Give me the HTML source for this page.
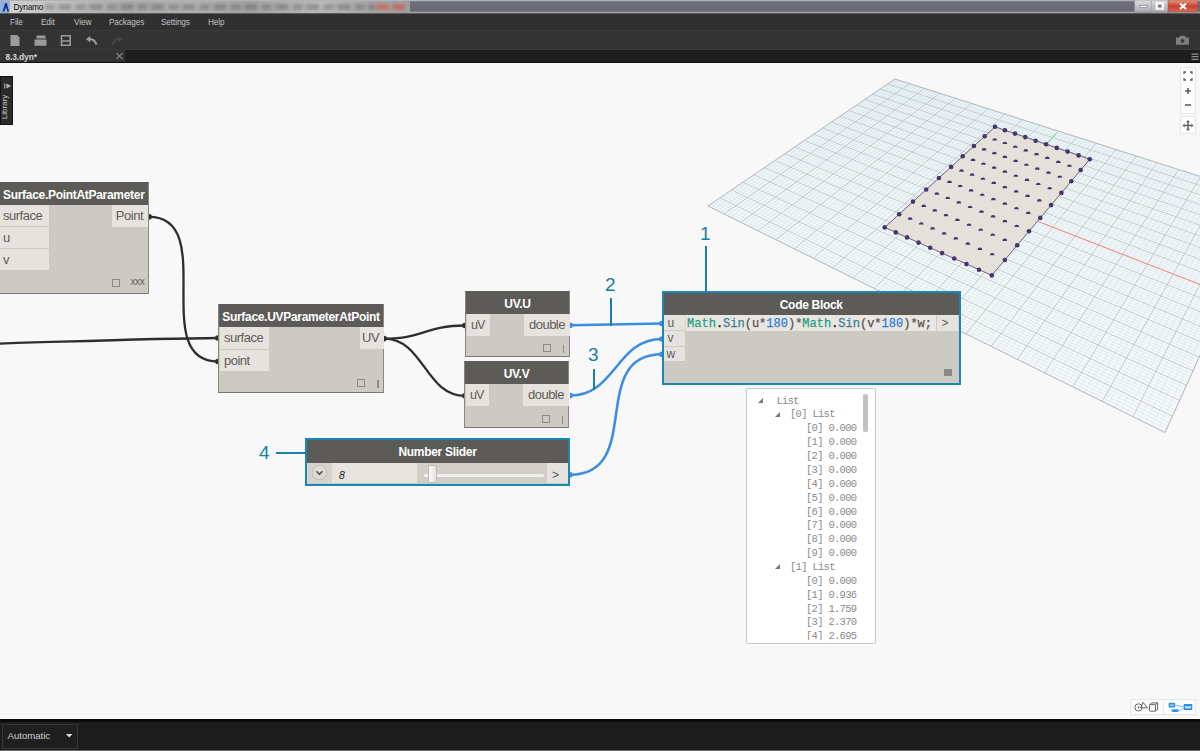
<!DOCTYPE html>
<html><head><meta charset="utf-8">
<style>
*{box-sizing:border-box;margin:0;padding:0}
html,body{width:1200px;height:751px;overflow:hidden;background:#f8f8f8;font-family:"Liberation Sans",sans-serif}
.abs{position:absolute}
#title{left:0;top:0;width:1200px;height:14px;background:linear-gradient(#d8d8dc 0,#8a8a94 1px,#6e6e7a 2px,#6a6a76 11px,#a2a2aa 12.5px,#3a3a3a 14px)}
#title .blur{left:10px;top:1px;width:400px;height:11.5px;background:linear-gradient(90deg,#cfcfcf 0,#bdbdbd 15%,#a9a9a9 30%,#b2b2b2 45%,#a4a4a4 60%,#bcbcbc 78%,#a6a6a6 90%,#9e9ea2 100%)}
#title .red{left:376px;top:3.5px;width:13px;height:6px;background:#c8604c;filter:blur(1.5px);opacity:.7}
#title .txt{left:13.5px;top:1px;font-size:8.4px;letter-spacing:-0.25px;color:#111;line-height:12px}
#menubar{left:0;top:14px;width:1200px;height:17px;background:#303030;border-bottom:1px solid #3a3a3a}
#menubar span{position:absolute;top:3px;font-size:8.2px;letter-spacing:-0.1px;color:#c2c2c2;line-height:11px}
#toolbar{left:0;top:31px;width:1200px;height:19px;background:#333333;border-bottom:1px solid #3a3a3a}
#tabbar{left:0;top:50px;width:1200px;height:13px;background:#1e1e1e;border-bottom:1px solid #0e0e0e}
#tab{left:0;top:0;width:125px;height:12px;background:#333333}
#tab .t{position:absolute;left:5.5px;top:1.5px;font-size:8.4px;font-weight:bold;letter-spacing:-0.1px;color:#d4d4d4;line-height:11px}
#status{left:0;top:719px;width:1200px;height:32px;background:#1c1c1c;border-top:3px solid #0a0a0a;border-bottom:1.3px solid #070707}
#status:after{content:"";position:absolute;left:0;bottom:-1.3px;width:1200px;height:1.3px;background:#6a6a6a}
#auto{left:2px;top:2px;width:76px;height:25px;border:1.5px solid #363636;background:#1f1f1f}
#auto .t{position:absolute;left:4.5px;top:4.5px;font-size:9.6px;color:#d0d0d0}
#library{left:0;top:76px;width:13px;height:49px;background:#2b2b2b;border:1px solid #141414}
#library .t{position:absolute;left:-16px;top:25px;width:40px;transform:rotate(-90deg);font-size:8px;color:#c8c8c8;text-align:center;line-height:10px}
.node{position:absolute;background:#cdc9c3;border:1px solid #8b8680;border-top-color:#5c5b58;border-bottom:1.5px solid #7b7873}
.hdr{position:absolute;left:0;top:0;right:0;padding-top:1px;background:#5c5b58;color:#fff;font-weight:bold;font-size:12px;letter-spacing:-0.3px;white-space:nowrap;text-align:center}
.port{position:absolute;background:#e6e3de;color:#605c57;font-size:13px;letter-spacing:-0.5px;white-space:nowrap}
.box{position:absolute;width:7.5px;height:7.5px;border:1px solid #8f8a85}
.ibar{position:absolute;width:1.3px;height:8px;background:#8d8983}
.sel{border:3px solid #1a88b4}
.ann{position:absolute;color:#1a7fa8;font-size:19px;line-height:19px}
.annl{position:absolute;background:#1b80a9}
#list{left:746px;top:388px;width:130px;height:256px;background:#fff;border:1px solid #c9c9c9;border-radius:2px;overflow:hidden}
.lrow{position:absolute;font-family:"Liberation Mono",monospace;font-size:10.5px;letter-spacing:-0.7px;color:#8a8a8a;white-space:nowrap;line-height:12px}
.tri{position:absolute;width:0;height:0;border-left:5px solid transparent;border-bottom:5px solid #777}
.code{font-family:"Liberation Mono",monospace;font-size:12px;white-space:nowrap;color:#555;-webkit-text-stroke:0.25px}
</style></head><body>
<div id="title" class="abs">
  <div class="abs blur"></div><div class="abs" style="left:45px;top:4px;width:330px;height:6px;background:repeating-linear-gradient(90deg,rgba(60,60,60,.28) 0 9px,rgba(60,60,60,.1) 9px 14px,rgba(60,60,60,.3) 14px 26px,rgba(60,60,60,.05) 26px 31px);filter:blur(1.5px)"></div><div class="abs red"></div><div class="abs red" style="left:392px"></div>
  <svg class="abs" style="left:0;top:0" width="14" height="14"><rect x="0" y="1" width="10" height="12" fill="#8fb0e0"/><path d="M2.5 11.5L5.2 3h1.6L9 11.5H7.3L6 7 4.3 11.5z" fill="#1a2f7a"/></svg>
  <div class="abs txt">Dynamo</div>
  <svg class="abs" style="left:1134px;top:0" width="66" height="13">
    <defs><linearGradient id="bg1" x1="0" y1="0" x2="0" y2="1"><stop offset="0" stop-color="#dcdce0"/><stop offset="1" stop-color="#a9aab0"/></linearGradient>
    <linearGradient id="bg2" x1="0" y1="0" x2="0" y2="1"><stop offset="0" stop-color="#e89a88"/><stop offset=".5" stop-color="#c9412a"/><stop offset="1" stop-color="#d66a55"/></linearGradient></defs>
    <rect x="0.5" y="0" width="34" height="12" fill="url(#bg1)" stroke="#8a8a90" stroke-width="0.6"/>
    <rect x="34" y="0" width="30" height="12" fill="url(#bg2)" stroke="#8a5a50" stroke-width="0.6"/>
    <line x1="17.5" y1="0.5" x2="17.5" y2="11.5" stroke="#9a9aa0" stroke-width="0.6"/>
    <rect x="6" y="5.3" width="7" height="2.4" fill="#fff" stroke="#555" stroke-width="0.5"/>
    <rect x="22.5" y="3" width="6.5" height="6" fill="none" stroke="#fff" stroke-width="1.6"/><rect x="24.8" y="5.3" width="2" height="1.6" fill="#444"/>
    <path d="M46 3.5L52 9M52 3.5L46 9" stroke="#fff" stroke-width="2.1"/>
  </svg>
</div>
<div id="menubar" class="abs">
  <span style="left:10px">File</span><span style="left:41px">Edit</span><span style="left:74px">View</span><span style="left:109px">Packages</span><span style="left:161px">Settings</span><span style="left:208px">Help</span>
</div>
<div id="toolbar" class="abs">
  <svg class="abs" style="left:0;top:0" width="130" height="19">
    <g fill="#9b9b9b">
      <path d="M10.5 4h6.5l2.5 2.5V15H10.5z"/>
      <path d="M36.5 4.5h9v3h-9z M34.5 8.5h12v6.3h-12z"/>
      <path d="M60.7 4h10.3v11H60.7z M62.3 5.6v3.6h7.1V5.6z M62.3 10.8v2.6h7.1v-2.6z" fill-rule="evenodd"/>
    </g>
    <path d="M96.5 13.5C95 9.5 92.5 8 89.5 8" stroke="#a0a0a0" stroke-width="2" fill="none"/><path d="M86 8.2l4.2-3.2v6.2z" fill="#a0a0a0"/>
    <path d="M112.5 14C113.5 9.5 116 8 119.5 8" stroke="#474747" stroke-width="2" fill="none"/><path d="M122.5 8.2l-4-3v6z" fill="#474747"/>
  </svg>
  <svg class="abs" style="left:1175px;top:4px" width="15" height="11">
    <path d="M1 2.5h3l1.5-1.7h4L11 2.5h3v7.2H1z" fill="#7e7e7e"/><circle cx="7.5" cy="5.9" r="1.9" fill="#3a3a3a"/>
  </svg>
</div>
<div id="tabbar" class="abs">
  <div id="tab" class="abs"><div class="t">8.3.dyn*</div>
    <svg class="abs" style="left:115px;top:2px" width="9" height="8"><path d="M1.5 1L7.5 7M7.5 1L1.5 7" stroke="#858585" stroke-width="1.1"/></svg>
  </div>
  <svg class="abs" style="left:1191px;top:2px" width="8" height="10"><path d="M0.5 2.1h7M0.5 4.7h7M0.5 7.3h7" stroke="#8e8e8e" stroke-width="1.2"/></svg>
</div>
<div id="library" class="abs">
  <svg class="abs" style="left:3px;top:6px" width="8" height="8"><path d="M2.5 0.5L7 3L2.5 5.5z" fill="#bbb"/><path d="M0.8 0.5v5" stroke="#bbb" stroke-width="1"/></svg>
  <div class="t">Library</div>
</div>

<svg class="abs" width="1200" height="751" style="left:0;top:0">
<defs><clipPath id="cv"><rect x="0" y="63" width="1200" height="656"/></clipPath></defs>
<g clip-path="url(#cv)">
<path d="M708 206L1165 432.5L1271 199L895 79Z" fill="#f5f8f9" stroke="#bcc3c7" stroke-width="0.8"/>
<path d="M711.2 207.6L897.9 79.9M710.4 204.4L1166.5 429.2M714.4 209.2L900.8 80.9M712.8 202.7L1168.0 425.9M717.7 210.8L903.7 81.8M715.2 201.1L1169.5 422.6M720.9 212.4L906.7 82.7M717.6 199.5L1171.0 419.4M727.5 215.7L912.6 84.6M722.3 196.3L1173.9 413.0M730.8 217.3L915.5 85.6M724.7 194.7L1175.3 409.8M734.2 219.0L918.5 86.5M727.0 193.1L1176.7 406.7M737.5 220.6L921.5 87.5M729.3 191.5L1178.1 403.6M744.3 224.0L927.6 89.4M733.9 188.4L1180.9 397.4M747.7 225.7L930.6 90.4M736.2 186.9L1182.3 394.4M751.2 227.4L933.7 91.4M738.4 185.3L1183.7 391.4M754.6 229.1L936.8 92.3M740.7 183.8L1185.0 388.4M761.7 232.6L943.0 94.3M745.1 180.8L1187.7 382.5M765.2 234.3L946.1 95.3M747.3 179.3L1189.0 379.6M768.7 236.1L949.2 96.3M749.5 177.8L1190.3 376.7M772.3 237.9L952.4 97.3M751.7 176.3L1191.6 373.8M779.6 241.5L958.7 99.3M756.0 173.4L1194.2 368.2M783.2 243.3L961.9 100.4M758.2 171.9L1195.5 365.4M786.9 245.1L965.2 101.4M760.3 170.5L1196.7 362.6M790.6 246.9L968.4 102.4M762.4 169.0L1198.0 359.8M798.0 250.6L974.9 104.5M766.6 166.2L1200.5 354.4M801.8 252.5L978.2 105.5M768.7 164.8L1201.7 351.7M805.6 254.4L981.5 106.6M770.8 163.3L1202.9 349.0M809.4 256.3L984.8 107.7M772.9 161.9L1204.1 346.4M817.1 260.1L991.5 109.8M777.0 159.2L1206.5 341.2M821.0 262.0L994.8 110.9M779.0 157.8L1207.6 338.6M825.0 264.0L998.2 111.9M781.0 156.4L1208.8 336.0M828.9 265.9L1001.6 113.0M783.0 155.1L1210.0 333.4M836.9 269.9L1008.4 115.2M787.0 152.3L1212.3 328.4M840.9 271.9L1011.9 116.3M789.0 151.0L1213.4 325.9M845.0 273.9L1015.3 117.4M790.9 149.7L1214.5 323.4M849.1 275.9L1018.8 118.5M792.9 148.3L1215.6 321.0M857.3 280.0L1025.8 120.8M796.8 145.7L1217.8 316.1M861.5 282.1L1029.4 121.9M798.7 144.4L1218.9 313.7M865.7 284.2L1032.9 123.0M800.6 143.1L1220.0 311.3M869.9 286.2L1036.5 124.2M802.5 141.8L1221.1 308.9M878.5 290.5L1043.7 126.5M806.3 139.3L1223.2 304.3M882.8 292.6L1047.3 127.6M808.2 138.0L1224.3 301.9M887.1 294.8L1051.0 128.8M810.0 136.7L1225.3 299.6M891.5 296.9L1054.6 130.0M811.9 135.5L1226.4 297.3M900.4 301.3L1062.0 132.3M815.5 133.0L1228.4 292.8M904.8 303.6L1065.8 133.5M817.4 131.7L1229.4 290.6M909.3 305.8L1069.5 134.7M819.2 130.5L1230.4 288.4M913.9 308.0L1073.3 135.9M821.0 129.3L1231.4 286.2M923.0 312.6L1080.9 138.3M824.6 126.8L1233.4 281.8M927.7 314.9L1084.7 139.5M826.3 125.6L1234.4 279.6M932.4 317.2L1088.5 140.8M828.1 124.4L1235.4 277.5M937.1 319.5L1092.4 142.0M829.9 123.2L1236.3 275.4M946.6 324.2L1100.2 144.5M833.4 120.9L1238.3 271.1M951.4 326.6L1104.1 145.7M835.1 119.7L1239.2 269.0M956.2 329.0L1108.1 147.0M836.8 118.5L1240.1 267.0M961.1 331.4L1112.0 148.3M838.5 117.3L1241.1 264.9M971.0 336.3L1120.0 150.8M841.9 115.0L1242.9 260.8M976.0 338.8L1124.1 152.1M843.6 113.9L1243.8 258.8M981.0 341.3L1128.1 153.4M845.3 112.7L1244.8 256.8M986.1 343.8L1132.2 154.7M847.0 111.6L1245.7 254.8M996.3 348.9L1140.5 157.3M850.3 109.4L1247.5 250.9M1001.5 351.5L1144.6 158.7M852.0 108.2L1248.3 248.9M1006.8 354.1L1148.8 160.0M853.6 107.1L1249.2 247.0M1012.0 356.7L1153.0 161.3M855.2 106.0L1250.1 245.0M1022.7 362.0L1161.4 164.0M858.5 103.8L1251.8 241.2M1028.1 364.6L1165.7 165.4M860.1 102.7L1252.7 239.3M1033.5 367.3L1170.0 166.8M861.7 101.6L1253.5 237.5M1039.0 370.1L1174.3 168.1M863.3 100.6L1254.4 235.6M1050.1 375.5L1183.0 170.9M866.4 98.4L1256.1 231.9M1055.7 378.3L1187.4 172.3M868.0 97.3L1256.9 230.1M1061.4 381.1L1191.8 173.7M869.6 96.3L1257.7 228.2M1067.1 384.0L1196.3 175.2M871.1 95.2L1258.5 226.4M1078.6 389.7L1205.2 178.0M874.2 93.1L1260.2 222.9M1084.4 392.6L1209.8 179.5M875.7 92.1L1261.0 221.1M1090.3 395.5L1214.3 180.9M877.3 91.1L1261.8 219.3M1096.3 398.4L1218.9 182.4M878.8 90.0L1262.6 217.6M1108.3 404.4L1228.1 185.3M881.8 88.0L1264.1 214.1M1114.4 407.4L1232.8 186.8M883.3 87.0L1264.9 212.4M1120.5 410.5L1237.4 188.3M884.8 85.9L1265.7 210.7M1126.7 413.5L1242.1 189.8M886.3 84.9L1266.5 209.0M1139.3 419.7L1251.7 192.8M889.2 82.9L1268.0 205.6M1145.6 422.9L1256.4 194.4M890.7 82.0L1268.8 203.9M1152.0 426.1L1261.3 195.9M892.1 81.0L1269.5 202.3M1158.5 429.3L1266.1 197.4M893.6 80.0L1270.3 200.6" stroke="#cde0e8" stroke-width="0.5" fill="none"/>
<path d="M708.0 206.0L895.0 79.0M708.0 206.0L1165.0 432.5M724.2 214.0L909.6 83.7M720.0 197.9L1172.4 416.2M740.9 222.3L924.6 88.4M731.6 190.0L1179.5 400.5M758.1 230.8L939.9 93.3M742.9 182.3L1186.4 385.4M775.9 239.7L955.6 98.3M753.9 174.8L1192.9 371.0M794.3 248.8L971.6 103.5M764.5 167.6L1199.2 357.1M813.3 258.2L988.1 108.7M774.9 160.5L1205.3 343.8M832.9 267.9L1005.0 114.1M785.0 153.7L1211.1 330.9M853.2 277.9L1022.3 119.6M794.8 147.0L1216.7 318.5M874.2 288.4L1040.1 125.3M804.4 140.5L1222.2 306.6M895.9 299.1L1058.3 131.1M813.7 134.2L1227.4 295.1M918.4 310.3L1077.1 137.1M822.8 128.0L1232.4 284.0M941.8 321.9L1096.3 143.2M831.6 122.0L1237.3 273.2M966.0 333.9L1116.0 149.5M840.2 116.2L1242.0 262.9M991.2 346.4L1136.3 156.0M848.6 110.5L1246.6 252.8M1017.3 359.3L1157.2 162.7M856.8 104.9L1251.0 243.1M1044.5 372.8L1178.7 169.5M864.8 99.5L1255.2 233.7M1072.8 386.8L1200.7 176.6M872.7 94.2L1259.4 224.6M1102.3 401.4L1223.5 183.8M880.3 89.0L1263.4 215.8M1133.0 416.6L1246.9 191.3M887.7 83.9L1267.2 207.3M1165.0 432.5L1271.0 199.0M895.0 79.0L1271.0 199.0" stroke="#aab3b8" stroke-width="0.65" fill="none"/>
<path d="M1038.6 221.7L1227.4 295.1" stroke="#f28a80" stroke-width="1"/>
<path d="M1047.5 143.5L1057.0 132.5" stroke="#86cf86" stroke-width="1"/>
<path d="M995 126.8L1089.8 159.2L991.8 275.4L884.7 227.4Z" fill="#e4e0da" stroke="#6c6384" stroke-width="1"/>
<g fill="#44366c"><circle cx="995.0" cy="126.8" r="2.3"/><circle cx="984.7" cy="136.2" r="2.3"/><circle cx="973.9" cy="146.0" r="2.3"/><circle cx="962.7" cy="156.2" r="2.3"/><circle cx="951.1" cy="166.9" r="2.3"/><circle cx="938.9" cy="178.0" r="2.3"/><circle cx="926.2" cy="189.5" r="2.3"/><circle cx="913.0" cy="201.6" r="2.3"/><circle cx="899.2" cy="214.2" r="2.3"/><circle cx="884.7" cy="227.4" r="2.3"/><circle cx="1004.9" cy="130.2" r="2.3"/><path d="M992.3 140.6A2.4 2.4 0 0 1 997.1 140.6Z"/><path d="M981.7 150.5A2.4 2.4 0 0 1 986.5 150.5Z"/><path d="M970.6 160.9A2.4 2.4 0 0 1 975.4 160.9Z"/><path d="M959.1 171.7A2.4 2.4 0 0 1 963.9 171.7Z"/><path d="M947.1 182.9A2.4 2.4 0 0 1 951.9 182.9Z"/><path d="M934.5 194.7A2.4 2.4 0 0 1 939.3 194.7Z"/><path d="M921.4 206.9A2.4 2.4 0 0 1 926.2 206.9Z"/><path d="M907.7 219.7A2.4 2.4 0 0 1 912.5 219.7Z"/><circle cx="895.8" cy="232.4" r="2.3"/><circle cx="1015.0" cy="133.6" r="2.3"/><path d="M1002.5 144.1A2.4 2.4 0 0 1 1007.3 144.1Z"/><path d="M992.0 154.2A2.4 2.4 0 0 1 996.8 154.2Z"/><path d="M981.1 164.8A2.4 2.4 0 0 1 985.9 164.8Z"/><path d="M969.7 175.7A2.4 2.4 0 0 1 974.5 175.7Z"/><path d="M957.8 187.1A2.4 2.4 0 0 1 962.6 187.1Z"/><path d="M945.4 199.1A2.4 2.4 0 0 1 950.2 199.1Z"/><path d="M932.4 211.5A2.4 2.4 0 0 1 937.2 211.5Z"/><path d="M918.9 224.6A2.4 2.4 0 0 1 923.7 224.6Z"/><circle cx="907.1" cy="237.4" r="2.3"/><circle cx="1025.2" cy="137.1" r="2.3"/><path d="M1012.9 147.8A2.4 2.4 0 0 1 1017.7 147.8Z"/><path d="M1002.5 158.0A2.4 2.4 0 0 1 1007.3 158.0Z"/><path d="M991.7 168.7A2.4 2.4 0 0 1 996.5 168.7Z"/><path d="M980.5 179.8A2.4 2.4 0 0 1 985.3 179.8Z"/><path d="M968.7 191.4A2.4 2.4 0 0 1 973.5 191.4Z"/><path d="M956.4 203.5A2.4 2.4 0 0 1 961.2 203.5Z"/><path d="M943.6 216.2A2.4 2.4 0 0 1 948.4 216.2Z"/><path d="M930.2 229.5A2.4 2.4 0 0 1 935.0 229.5Z"/><circle cx="918.5" cy="242.6" r="2.3"/><circle cx="1035.6" cy="140.7" r="2.3"/><path d="M1023.4 151.5A2.4 2.4 0 0 1 1028.2 151.5Z"/><path d="M1013.2 161.9A2.4 2.4 0 0 1 1018.0 161.9Z"/><path d="M1002.5 172.7A2.4 2.4 0 0 1 1007.3 172.7Z"/><path d="M991.4 184.0A2.4 2.4 0 0 1 996.2 184.0Z"/><path d="M979.8 195.8A2.4 2.4 0 0 1 984.6 195.8Z"/><path d="M967.7 208.1A2.4 2.4 0 0 1 972.5 208.1Z"/><path d="M955.0 221.0A2.4 2.4 0 0 1 959.8 221.0Z"/><path d="M941.7 234.5A2.4 2.4 0 0 1 946.5 234.5Z"/><circle cx="930.2" cy="247.8" r="2.3"/><circle cx="1046.1" cy="144.3" r="2.3"/><path d="M1034.1 155.2A2.4 2.4 0 0 1 1038.9 155.2Z"/><path d="M1024.0 165.8A2.4 2.4 0 0 1 1028.8 165.8Z"/><path d="M1013.5 176.8A2.4 2.4 0 0 1 1018.3 176.8Z"/><path d="M1002.5 188.2A2.4 2.4 0 0 1 1007.3 188.2Z"/><path d="M991.0 200.2A2.4 2.4 0 0 1 995.8 200.2Z"/><path d="M979.1 212.7A2.4 2.4 0 0 1 983.9 212.7Z"/><path d="M966.6 225.8A2.4 2.4 0 0 1 971.4 225.8Z"/><path d="M953.4 239.5A2.4 2.4 0 0 1 958.2 239.5Z"/><circle cx="942.1" cy="253.1" r="2.3"/><circle cx="1056.8" cy="147.9" r="2.3"/><path d="M1044.9 159.0A2.4 2.4 0 0 1 1049.7 159.0Z"/><path d="M1034.9 169.7A2.4 2.4 0 0 1 1039.7 169.7Z"/><path d="M1024.6 180.9A2.4 2.4 0 0 1 1029.4 180.9Z"/><path d="M1013.8 192.5A2.4 2.4 0 0 1 1018.6 192.5Z"/><path d="M1002.5 204.7A2.4 2.4 0 0 1 1007.3 204.7Z"/><path d="M990.7 217.4A2.4 2.4 0 0 1 995.5 217.4Z"/><path d="M978.3 230.8A2.4 2.4 0 0 1 983.1 230.8Z"/><path d="M965.4 244.7A2.4 2.4 0 0 1 970.2 244.7Z"/><circle cx="954.2" cy="258.5" r="2.3"/><circle cx="1067.6" cy="151.6" r="2.3"/><path d="M1055.9 162.9A2.4 2.4 0 0 1 1060.7 162.9Z"/><path d="M1046.1 173.7A2.4 2.4 0 0 1 1050.9 173.7Z"/><path d="M1035.9 185.1A2.4 2.4 0 0 1 1040.7 185.1Z"/><path d="M1025.2 196.9A2.4 2.4 0 0 1 1030.0 196.9Z"/><path d="M1014.1 209.3A2.4 2.4 0 0 1 1018.9 209.3Z"/><path d="M1002.5 222.2A2.4 2.4 0 0 1 1007.3 222.2Z"/><path d="M990.3 235.8A2.4 2.4 0 0 1 995.1 235.8Z"/><path d="M977.5 250.0A2.4 2.4 0 0 1 982.3 250.0Z"/><circle cx="966.5" cy="264.1" r="2.3"/><circle cx="1078.6" cy="155.4" r="2.3"/><path d="M1067.0 166.8A2.4 2.4 0 0 1 1071.8 166.8Z"/><path d="M1057.4 177.8A2.4 2.4 0 0 1 1062.2 177.8Z"/><path d="M1047.3 189.3A2.4 2.4 0 0 1 1052.1 189.3Z"/><path d="M1036.9 201.4A2.4 2.4 0 0 1 1041.7 201.4Z"/><path d="M1025.9 213.9A2.4 2.4 0 0 1 1030.7 213.9Z"/><path d="M1014.4 227.1A2.4 2.4 0 0 1 1019.2 227.1Z"/><path d="M1002.4 240.9A2.4 2.4 0 0 1 1007.2 240.9Z"/><path d="M989.8 255.3A2.4 2.4 0 0 1 994.6 255.3Z"/><circle cx="979.0" cy="269.7" r="2.3"/><circle cx="1089.8" cy="159.2" r="2.3"/><circle cx="1080.7" cy="170.0" r="2.3"/><circle cx="1071.3" cy="181.2" r="2.3"/><circle cx="1061.4" cy="192.9" r="2.3"/><circle cx="1051.1" cy="205.1" r="2.3"/><circle cx="1040.3" cy="217.9" r="2.3"/><circle cx="1029.0" cy="231.2" r="2.3"/><circle cx="1017.2" cy="245.3" r="2.3"/><circle cx="1004.8" cy="260.0" r="2.3"/><circle cx="991.8" cy="275.4" r="2.3"/></g>
</g></svg>

<!-- zoom controls -->
<div class="abs" style="left:1180px;top:67px;width:16px;height:47px;background:#fdfdfd;border:1px solid #e8e8e8"></div>
<div class="abs" style="left:1180px;top:116px;width:16px;height:18px;background:#fdfdfd;border:1px solid #e8e8e8"></div>
<svg class="abs" style="left:1180px;top:67px" width="16" height="68">
  <g stroke="#5f5f5f" stroke-width="1.3" fill="none">
    <path d="M4 7V5h2M10 5h2v2M12 11v2h-2M6 13H4v-2"/>
    <path d="M8 21v6M5 24h6" stroke-width="1.6"/>
    <path d="M5 38h6" stroke-width="1.6"/>
    <path d="M8 55v7M4.5 58.5h7" stroke-width="1.5"/>
  </g>
  <g fill="#5f5f5f"><path d="M8 53l-2 2.2h4zM8 64l-2-2.2h4zM2.5 58.5l2.2-2v4zM13.5 58.5l-2.2-2v4z"/></g>
</svg>
<!-- bottom right toggle -->
<div class="abs" style="left:1130px;top:699px;width:66px;height:16px;background:#fcfcfc;border:1px solid #e6e6e6"></div>
<div class="abs" style="left:1163px;top:700px;width:1px;height:14px;background:#eaeaea"></div>
<svg class="abs" style="left:1130px;top:699px" width="66" height="16">
  <g fill="none" stroke="#555" stroke-width="0.9">
    <circle cx="8.5" cy="8.4" r="3.6"/><path d="M13 3.3L10.8 8.8h6.6z"/>
    <rect x="19.5" y="5.6" width="6" height="6.6" rx="0.6"/><path d="M19.8 5.6l1.6-1.7h6.2v6.6l-2,1.7M25.5 5.6l2-1.7"/>
  </g>
  <circle cx="8.5" cy="8.4" r="0.9" fill="#555"/>
  <g fill="#2b90f0"><rect x="38.7" y="3.7" width="6.4" height="4.9" rx="0.9"/><rect x="53.7" y="4.9" width="8.6" height="6.2" rx="0.6"/><rect x="41.5" y="10.3" width="7.3" height="2.6" rx="1.3"/></g>
  <g fill="#cfe5fb"><rect x="40" y="5.6" width="3.8" height="1.2"/><rect x="55" y="7.3" width="6" height="2"/></g>
  <path d="M45 6.2c3 0 4.5 1.5 8.7 1.4M48.8 11.6c2.5 0 3.5-1.8 4.9-2.6" stroke="#2b90f0" stroke-width="0.6" fill="none"/>
</svg>

<svg class="abs" width="1200" height="751" style="left:0;top:0">
<g fill="none" stroke="#2e2e2e" stroke-width="2.3"><path d="M-2 343.6C60 342 150 338.5 218 338"/><path d="M149 216.8C219 216.8 148 361.5 218 361.5"/><path d="M384 338.6C424 338.6 425 325.5 465 325.5"/><path d="M384 338.6C424 338.6 425 395.8 465 395.8"/></g>
<g fill="none" stroke="#3a8de0" stroke-width="2.5"><path d="M570 325.3L662 323.5"/><path d="M570 395.6C616 395.6 616 339 662 339"/><path d="M570 474.8C645 474.8 587 354.2 662 354.2"/></g>
<g fill="#2e2e2e"><path d="M149 214.0A3 2.8 0 0 1 149 219.60000000000002Z"/><path d="M218 335.2A3 2.8 0 0 0 218 340.8Z"/><path d="M218 358.7A3 2.8 0 0 0 218 364.3Z"/><path d="M384 335.8A3 2.8 0 0 1 384 341.40000000000003Z"/><path d="M465 322.7A3 2.8 0 0 0 465 328.3Z"/><path d="M465 393.0A3 2.8 0 0 0 465 398.6Z"/></g>
<g fill="#3a8de0"><path d="M570 322.5A3 2.8 0 0 1 570 328.1Z"/><path d="M662 320.7A3 2.8 0 0 0 662 326.3Z"/><path d="M570 392.8A3 2.8 0 0 1 570 398.40000000000003Z"/><path d="M662 336.2A3 2.8 0 0 0 662 341.8Z"/><path d="M570 472.0A3 2.8 0 0 1 570 477.6Z"/><path d="M662 351.4A3 2.8 0 0 0 662 357.0Z"/></g>
</svg>

<!-- Node: Surface.PointAtParameter -->
<div class="node" style="left:-12px;top:182px;width:161px;height:112px">
  <div class="hdr" style="height:22px;line-height:22px;text-align:left;padding-left:14px">Surface.PointAtParameter</div>
  <div class="port" style="left:11px;top:22px;width:49px;height:21px;line-height:21px;padding-left:3px">surface</div>
  <div class="port" style="left:11px;top:44px;width:49px;height:21px;line-height:21px;padding-left:3px">u</div>
  <div class="port" style="left:11px;top:66px;width:49px;height:21px;line-height:21px;padding-left:3px">v</div>
  <div class="port" style="left:123px;top:22px;width:36px;height:22px;line-height:21px;text-align:right;padding-right:5px">Point</div>
  <div class="box" style="left:123px;top:96px"></div>
  <div class="abs" style="left:141.5px;top:93px;font-size:10px;color:#635f5a;letter-spacing:-0.4px">xxx</div>
</div>
<!-- Node: Surface.UVParameterAtPoint -->
<div class="node" style="left:218px;top:304px;width:166px;height:89px">
  <div class="hdr" style="height:22px;line-height:22px">Surface.UVParameterAtPoint</div>
  <div class="port" style="left:1px;top:22px;width:49px;height:22px;line-height:22px;padding-left:4px">surface</div>
  <div class="port" style="left:1px;top:45px;width:49px;height:21px;line-height:21px;padding-left:4px">point</div>
  <div class="port" style="left:141px;top:22px;width:24px;height:22px;line-height:22px;padding-left:2px">UV</div>
  <div class="box" style="left:138px;top:74px"></div>
  <div class="ibar" style="left:158.3px;top:75px"></div>
</div>
<!-- UV.U -->
<div class="node" style="left:465px;top:291px;width:105px;height:66px">
  <div class="hdr" style="height:22px;line-height:22px">UV.U</div>
  <div class="port" style="left:1px;top:22px;width:22.5px;height:22px;line-height:22px;padding-left:4px;letter-spacing:-0.9px;font-size:12.5px">uV</div>
  <div class="port" style="left:58px;top:22px;width:46px;height:22px;line-height:22px;text-align:right;padding-right:5px">double</div>
  <div class="box" style="left:77px;top:52px"></div>
  <div class="ibar" style="left:96.5px;top:53px"></div>
</div>
<!-- UV.V -->
<div class="node" style="left:464px;top:361px;width:105px;height:67px">
  <div class="hdr" style="height:22px;line-height:22px">UV.V</div>
  <div class="port" style="left:1px;top:22px;width:22.5px;height:22px;line-height:22px;padding-left:4px;letter-spacing:-0.9px;font-size:12.5px">uV</div>
  <div class="port" style="left:58px;top:22px;width:46px;height:22px;line-height:22px;text-align:right;padding-right:5px">double</div>
  <div class="box" style="left:77px;top:53px"></div>
  <div class="ibar" style="left:96.5px;top:54px"></div>
</div>
<!-- Code Block -->
<div class="node sel" style="left:661.5px;top:290.5px;width:299.5px;height:94.5px;border-width:2.6px">
  <div class="hdr" style="height:22px;line-height:22px">Code Block</div>
  <div class="port" style="left:0;top:22px;width:21.5px;height:15.5px;line-height:16px;padding-left:4px;font-size:12px">u</div>
  <div class="port" style="left:0;top:38px;width:21.5px;height:15px;line-height:15.5px;padding-left:4px;font-size:12px">v</div>
  <div class="port" style="left:0;top:54px;width:21.5px;height:14px;line-height:14.5px;padding-left:3px;font-size:12px">w</div>
  <div class="abs" style="left:21.5px;top:22px;width:251px;height:16px;background:#e9e6e1;border-left:1px solid #d8d4ce"></div>
  <div class="abs code" style="left:23.6px;top:23px;line-height:16px"><span style="color:#2b9e82">Math</span><span style="color:#111">.</span><span style="color:#3d7f96">Sin</span>(u*<span style="color:#2d7fd6">180</span>)*<span style="color:#2b9e82">Math</span><span style="color:#111">.</span><span style="color:#3d7f96">Sin</span>(v*<span style="color:#2d7fd6">180</span>)*w;</div>
  <div class="port" style="left:272px;top:22px;width:22px;height:16px;line-height:16px;padding-left:5px;font-size:12px;border-left:1px solid #cfcac4;line-height:17px">&gt;</div>
  <div class="abs" style="left:280.3px;top:76.4px;width:8px;height:7px;background:#8c8883"></div>
</div>
<!-- Number Slider -->
<div class="node sel" style="left:305px;top:438px;width:265px;height:48px;border-width:2.5px">
  <div class="hdr" style="height:22.5px;line-height:22px">Number Slider</div>
  <div class="abs" style="left:0;top:22.5px;width:25px;height:20.5px;background:#d8d3cd"></div>
  <svg class="abs" style="left:4px;top:23.5px" width="17" height="17"><circle cx="8.5" cy="8.5" r="7.3" fill="#dedad5" stroke="#c2bdb7" stroke-width="1.1"/><path d="M5.5 7.3l3 3 3-3" stroke="#555" stroke-width="1.6" fill="none"/></svg>
  <div class="abs" style="left:25px;top:22.5px;width:85px;height:20.5px;background:#e8e5e0"></div>
  <div class="abs" style="left:32px;top:28.5px;font-size:10.5px;line-height:12px;font-style:italic;color:#222">8</div>
  <div class="abs" style="left:110px;top:22.5px;width:130px;height:20.5px;background:#d2cec7"></div>
  <div class="abs" style="left:117px;top:34px;width:120px;height:3px;background:#f1efec;border-radius:2px"></div>
  <div class="abs" style="left:121px;top:25px;width:9px;height:18px;background:linear-gradient(90deg,#fafafa,#e2e2e2);border:1px solid #bdb9b3;border-radius:2px"></div>
  <div class="abs" style="left:240px;top:22.5px;width:21px;height:20.5px;background:#e6e3de;font-size:12px;color:#555;padding-left:5px;line-height:24px">&gt;</div>
</div>
<!-- annotations -->
<div class="ann" style="left:700px;top:224px">1</div>
<div class="annl" style="left:705px;top:246px;width:2.2px;height:45px"></div>
<div class="ann" style="left:605px;top:275px">2</div>
<div class="annl" style="left:610.2px;top:297.5px;width:2.2px;height:28px"></div>
<div class="ann" style="left:588px;top:345px">3</div>
<div class="annl" style="left:592.5px;top:369px;width:2.2px;height:21px"></div>
<div class="ann" style="left:259px;top:443px">4</div>
<div class="annl" style="left:276px;top:451.5px;width:30px;height:2.2px"></div>
<!-- list -->
<div id="list" class="abs">
<div class="abs" style="left:0;top:0;width:128px;height:250.5px;overflow:hidden"><div class="tri" style="left:11.299999999999955px;top:9.0px"></div><div class="lrow" style="left:29.5px;top:5.5px">List</div><div class="tri" style="left:28.200000000000045px;top:22.9px"></div><div class="lrow" style="left:43px;top:19.4px">[0] List</div><div class="lrow" style="left:59px;top:33.2px">[0] 0.000</div><div class="lrow" style="left:59px;top:47.1px">[1] 0.000</div><div class="lrow" style="left:59px;top:61.0px">[2] 0.000</div><div class="lrow" style="left:59px;top:74.9px">[3] 0.000</div><div class="lrow" style="left:59px;top:88.7px">[4] 0.000</div><div class="lrow" style="left:59px;top:102.6px">[5] 0.000</div><div class="lrow" style="left:59px;top:116.5px">[6] 0.000</div><div class="lrow" style="left:59px;top:130.3px">[7] 0.000</div><div class="lrow" style="left:59px;top:144.2px">[8] 0.000</div><div class="lrow" style="left:59px;top:158.1px">[9] 0.000</div><div class="tri" style="left:28.200000000000045px;top:175.4px"></div><div class="lrow" style="left:43px;top:171.9px">[1] List</div><div class="lrow" style="left:59px;top:185.8px">[0] 0.000</div><div class="lrow" style="left:59px;top:199.7px">[1] 0.936</div><div class="lrow" style="left:59px;top:213.5px">[2] 1.759</div><div class="lrow" style="left:59px;top:227.4px">[3] 2.370</div><div class="lrow" style="left:59px;top:241.3px">[4] 2.695</div></div>
  <div class="abs" style="left:116px;top:5px;width:4.5px;height:38px;background:#c2c2c2;border-radius:2px"></div>
</div>
<!-- status -->
<div class="abs" style="left:0;top:718px;width:1200px;height:1px;background:#ffffff"></div>
<div id="status" class="abs"><div id="auto" class="abs"><div class="t">Automatic</div>
<svg class="abs" style="left:62.5px;top:9px" width="7" height="4"><path d="M0 0h6.5L3.25 3.5z" fill="#ddd"/></svg></div></div>
</body></html>
